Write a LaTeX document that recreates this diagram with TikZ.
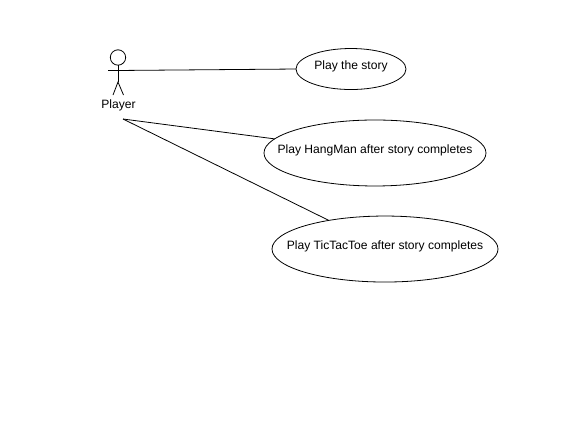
\documentclass[tikz,border=0pt]{standalone}
\usepackage{fontspec}
\setmainfont{Liberation Sans}
\usetikzlibrary{shapes.geometric}
\newcommand{\casename}[1]{\makebox[0pt]{\raisebox{-0.02cm}[0pt][0pt]{#1}}}

\begin{document}
\begin{tikzpicture}[
    usecase/.style={draw, ellipse, inner sep=0pt, outer sep=0pt, line width=0.6pt, font=\fontsize{9.1}{11}\selectfont},
    actorhead/.style={draw, circle, inner sep=0pt, outer sep=0pt, line width=0.6pt, minimum size=0.407cm},
    actorname/.style={inner sep=0pt, font=\fontsize{9.1}{11}\selectfont},
    edge/.style={line width=0.6pt}
]
    \useasboundingbox (0,0) rectangle (15.505,11.166);

    \node[actorhead] (head) at (3.122,9.645) {};
    \coordinate (shoulder) at (3.122,9.301);
    \coordinate (handl) at (2.858,9.301);
    \coordinate (handr) at (3.387,9.301);
    \coordinate (hip) at (3.122,8.996);
    \coordinate (footl) at (2.990,8.652);
    \coordinate (footr) at (3.268,8.652);
    \node[actorname] (player) at (3.135,8.388) {Player};
    \coordinate (playerend) at (3.255,8.017);

    \node[usecase, minimum width=2.91cm, minimum height=1.085cm] (story) at (9.287,9.340) {\casename{Play the story}};
    \node[usecase, minimum width=5.874cm, minimum height=1.746cm] (hangman) at (9.922,7.118) {\casename{Play HangMan after story completes}};
    \node[usecase, minimum width=5.98cm, minimum height=1.746cm] (tictactoe) at (10.187,4.577) {\casename{Play TicTacToe after story completes}};

    \draw[edge] (head) -- (hip);
    \draw[edge] (handl) -- (handr);
    \draw[edge] (footl) -- (hip) -- (footr);
    \draw[edge] (shoulder) -- (story.west);
    \draw[edge] (playerend) -- (hangman.172);
    \draw[edge] (playerend) -- (tictactoe.153);
\end{tikzpicture}
\end{document}
